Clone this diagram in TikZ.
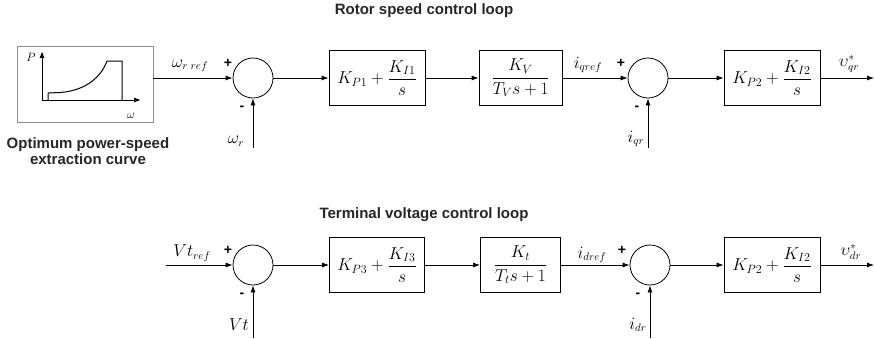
\documentclass[tikz,border=0pt]{standalone}
\usepackage{amsmath}
\usepackage{fontspec}
\setmainfont{Liberation Sans}
\usetikzlibrary{arrows.meta}
\begin{document}
\begin{tikzpicture}[x=1pt,y=-1pt,
  line width=0.8pt,
  arr/.style={-{Latex[length=7pt,width=5pt]}},
  sumnode/.style={draw,circle,minimum size=40pt,inner sep=0pt},
  blk/.style={draw,rectangle,minimum height=55pt,inner sep=0pt,font=\fontsize{17}{19}\selectfont},
  ttl/.style={font=\fontsize{15}{17}\selectfont\bfseries,text=black!85},
  sgn/.style={font=\fontsize{14}{15}\selectfont\bfseries},
  lbl/.style={font=\fontsize{16}{18}\selectfont}]
\useasboundingbox (0,0) rectangle (874,338);
% titles
\node[ttl] (t1) at (424,11) {Rotor speed control loop};
\node[ttl] (t2) at (424,215) {Terminal voltage control loop};
% curve box
\node[draw=black!45,minimum width=136pt,minimum height=76pt,inner sep=0pt] (cb) at (85,84) {};
\draw[arr,line width=1pt] (42,100) -- (42,51);
\draw[arr,line width=1pt] (42,100) -- (141,100);
\draw[line width=1pt] (48,100) -- (48,93) -- (60,92.5) .. controls (82,91) and (100,80) .. (107,61) -- (122,61) -- (122,100);
\node[font=\fontsize{12}{13}\selectfont] (pl) at (31,57) {$P$};
\node[font=\fontsize{13}{14}\selectfont] (wl) at (131,116) {$\omega$};
\node[ttl,align=center] (cap) at (88,151) {Optimum power-speed\\[-1pt]extraction curve};
% top row
\node[sumnode] (s1) at (253,78) {};
\node[blk,minimum width=96pt] (b1) at (377,78) {$K_{P1}+\dfrac{K_{I1}}{s}$};
\node[blk,minimum width=83pt] (b2) at (520.5,78) {$\dfrac{K_V}{T_V s+1}$};
\node[sumnode] (s2) at (648,78) {};
\node[blk,minimum width=96pt] (b3) at (772,78) {$K_{P2}+\dfrac{K_{I2}}{s}$};
\coordinate (o1) at (874,78);
\coordinate (f1) at (253,148);
\coordinate (f2) at (648,148);
\draw[arr] (cb.east |- s1) -- (s1);
\draw[arr] (s1) -- (b1);
\draw[arr] (b1) -- (b2);
\draw[arr] (b2) -- (s2);
\draw[arr] (s2) -- (b3);
\draw[arr] (b3) -- (o1);
\draw[arr] (f1) -- (s1);
\draw[arr] (f2) -- (s2);
\node[lbl] (l1) at (190,66) {$\omega_{r\;ref}$};
\node[sgn] (p1) at (228,63) {+};
\node[sgn] (m1) at (242,108) {-};
\node[lbl] (l2) at (236,141) {$\omega_{r}$};
\node[lbl] (l3) at (588,65) {$i_{qref}$};
\node[sgn] (p2) at (621,63) {+};
\node[sgn] (m2) at (637,108) {-};
\node[lbl] (l4) at (636,139) {$i_{qr}$};
\node[lbl] (l5) at (849,64) {$\upsilon^{*}_{qr}$};
% bottom row
\coordinate (i3) at (166,265);
\node[sumnode] (s3) at (253,265) {};
\node[blk,minimum width=95pt] (b4) at (377,265) {$K_{P3}+\dfrac{K_{I3}}{s}$};
\node[blk,minimum width=80pt] (b5) at (520.5,265) {$\dfrac{K_t}{T_t s+1}$};
\node[sumnode] (s4) at (650,265) {};
\node[blk,minimum width=96pt] (b6) at (772,265) {$K_{P2}+\dfrac{K_{I2}}{s}$};
\coordinate (o2) at (874,265);
\coordinate (f3) at (253,338);
\coordinate (f4) at (650,338);
\draw[arr] (i3) -- (s3);
\draw[arr] (s3) -- (b4);
\draw[arr] (b4) -- (b5);
\draw[arr] (b5) -- (s4);
\draw[arr] (s4) -- (b6);
\draw[arr] (b6) -- (o2);
\draw[arr] (f3) -- (s3);
\draw[arr] (f4) -- (s4);
\node[lbl] (l6) at (192,253) {$Vt_{ref}$};
\node[sgn] (p3) at (228,250) {+};
\node[sgn] (m3) at (242,295) {-};
\node[lbl] (l7) at (239,325) {$Vt$};
\node[lbl] (l8) at (592,255) {$i_{dref}$};
\node[sgn] (p4) at (622,250) {+};
\node[sgn] (m4) at (638,295) {-};
\node[lbl] (l9) at (638,325) {$i_{dr}$};
\node[lbl] (l10) at (851,252) {$\upsilon^{*}_{dr}$};
\end{tikzpicture}
\end{document}
